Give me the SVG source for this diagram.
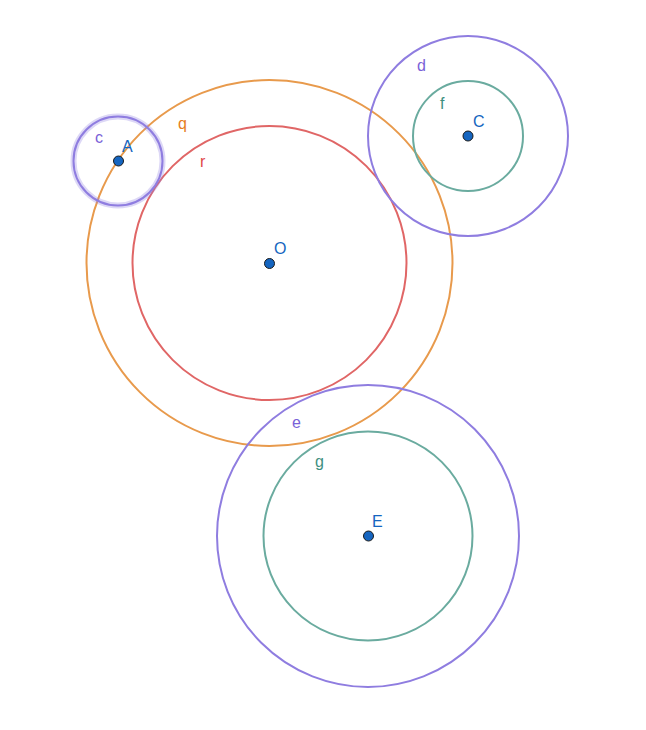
<svg xmlns="http://www.w3.org/2000/svg" width="646" height="730" viewBox="0 0 646 730">
<style>
.c{fill:none;stroke-width:2}
.p{fill:#1565c0;stroke:#1a1a1a;stroke-width:1}
text{font-family:"Liberation Sans",Arial,sans-serif;font-size:16px}
.purple{stroke:#8f7de0}
.teal{stroke:#6aab9f}
.orange{stroke:#e89a4c}
.red{stroke:#e06666}
.lp{fill:#1565c0}
</style>
<rect width="646" height="730" fill="#ffffff"/>
<g id="connectors"></g>
<g id="q"><circle class="c orange" cx="269.5" cy="263" r="183"/><text x="178" y="129" fill="#e67e22">q</text></g>
<g id="r"><circle class="c red" cx="269.5" cy="263" r="137"/><text x="200" y="167" fill="#e04646">r</text></g>
<g id="d"><circle class="c purple" cx="468" cy="136" r="100"/><text x="417" y="71" fill="#7a62d8">d</text></g>
<g id="f"><circle class="c teal" cx="468" cy="136" r="55"/><text x="440" y="109" fill="#3e8f80">f</text></g>
<g id="e"><circle class="c purple" cx="368" cy="536" r="151"/><text x="292" y="428" fill="#7a62d8">e</text></g>
<g id="g"><circle class="c teal" cx="368" cy="536" r="104.5"/><text x="315" y="467" fill="#3e8f80">g</text></g>
<g id="c"><circle cx="118" cy="161" r="44.5" fill="none" stroke="#8f7de0" stroke-opacity="0.3" stroke-width="6"/><circle class="c purple" cx="118" cy="161" r="44.5"/><text x="95" y="143" fill="#7a62d8">c</text></g>
<g id="A"><circle class="p" cx="118.5" cy="161" r="5"/><text x="122" y="152" class="lp">A</text></g>
<g id="O"><circle class="p" cx="269.5" cy="263.5" r="5"/><text x="274" y="254" class="lp">O</text></g>
<g id="C"><circle class="p" cx="468" cy="136" r="5"/><text x="473" y="127" class="lp">C</text></g>
<g id="E"><circle class="p" cx="368.5" cy="536" r="5"/><text x="372" y="527" class="lp">E</text></g>
</svg>
